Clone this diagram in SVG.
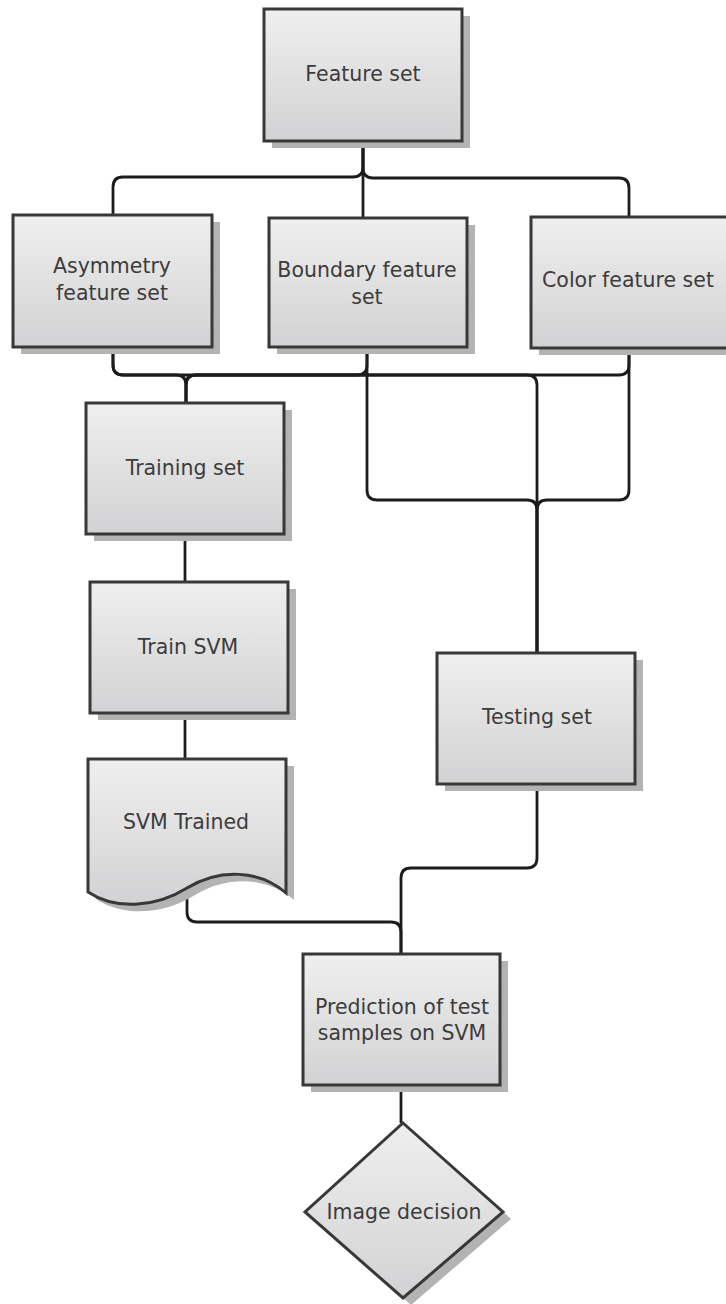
<svg xmlns="http://www.w3.org/2000/svg" width="726" height="1304" viewBox="0 0 726 1304">
<defs>
<linearGradient id="g" x1="0" y1="0" x2="0" y2="1">
<stop offset="0" stop-color="#efefef"/>
<stop offset="1" stop-color="#d2d2d4"/>
</linearGradient>
</defs>
<style>
.box{fill:url(#g);stroke:#383838;stroke-width:3}
.sh{fill:#b3b3b3}
.t{font-family:"DejaVu Sans",sans-serif;font-size:20.5px;fill:#3c3c3c;text-anchor:middle;dominant-baseline:central}
.c{fill:none;stroke:#1c1c1c;stroke-width:2.8}
</style>
<rect width="726" height="1304" fill="#ffffff"/>
<g id="connectors">
<path class="c" d="M363,141 V167 Q363,177 353,177 H123 Q113,177 113,187 V215"/>
<path class="c" d="M363,141 V218"/>
<path class="c" d="M363,141 V168 Q363,178 373,178 H619 Q629,178 629,188 V217"/>
<path class="c" d="M113,347 V365 Q113,375 123,375 H176 Q186,375 186,385 V403"/>
<path class="c" d="M367,347 V365 Q367,375 357,375 H196 Q186,375 186,385 V403"/>
<path class="c" d="M629,348 V365 Q629,375 619,375 H196 Q186,375 186,385 V403"/>
<path class="c" d="M113,347 V365 Q113,375 123,375 H527 Q537,375 537,385 V653"/>
<path class="c" d="M367,347 V490 Q367,500 377,500 H527 Q537,500 537,510 V653"/>
<path class="c" d="M629,348 V490 Q629,500 619,500 H547 Q537,500 537,510 V653"/>
<path class="c" d="M185,534 V582"/>
<path class="c" d="M185,713 V759"/>
<path class="c" d="M187,888 V912 Q187,922 197,922 H391 Q401,922 401,932 V954"/>
<path class="c" d="M537,784 V858 Q537,868 527,868 H411 Q401,868 401,878 V954"/>
<path class="c" d="M401,1085 V1123"/>
</g>
<g id="feature-set">
<rect class="sh" x="272" y="16" width="198" height="132"/>
<rect class="box" x="264" y="9" width="198" height="132"/>
<text class="t" x="363" y="74">Feature set</text>
</g>
<g id="asymmetry">
<rect class="sh" x="21" y="222" width="199" height="132"/>
<rect class="box" x="13" y="215" width="199" height="132"/>
<text class="t" x="112" y="266">Asymmetry</text>
<text class="t" x="112" y="293">feature set</text>
</g>
<g id="boundary">
<rect class="sh" x="277" y="225" width="198" height="129"/>
<rect class="box" x="269" y="218" width="198" height="129"/>
<text class="t" x="367" y="270">Boundary feature</text>
<text class="t" x="367" y="297">set</text>
</g>
<g id="color">
<rect class="sh" x="539" y="224" width="198" height="131"/>
<rect class="box" x="531" y="217" width="198" height="131"/>
<text class="t" x="628" y="280">Color feature set</text>
</g>
<g id="training">
<rect class="sh" x="94" y="410" width="198" height="131"/>
<rect class="box" x="86" y="403" width="198" height="131"/>
<text class="t" x="185" y="468">Training set</text>
</g>
<g id="train-svm">
<rect class="sh" x="98" y="589" width="198" height="131"/>
<rect class="box" x="90" y="582" width="198" height="131"/>
<text class="t" x="188" y="647">Train SVM</text>
</g>
<g id="svm-trained">
<path class="sh" transform="translate(8,7)" d="M88,759 H286 V893 C260,870 220,868 187,888 C155,908 115,910 88,892 Z"/>
<path class="box" d="M88,759 H286 V893 C260,870 220,868 187,888 C155,908 115,910 88,892 Z"/>
<text class="t" x="186" y="822">SVM Trained</text>
</g>
<g id="testing">
<rect class="sh" x="445" y="660" width="198" height="131"/>
<rect class="box" x="437" y="653" width="198" height="131"/>
<text class="t" x="537" y="717">Testing set</text>
</g>
<g id="prediction">
<rect class="sh" x="311" y="961" width="197" height="131"/>
<rect class="box" x="303" y="954" width="197" height="131"/>
<text class="t" x="402" y="1007">Prediction of test</text>
<text class="t" x="402" y="1033">samples on SVM</text>
</g>
<g id="image-decision">
<polygon class="sh" transform="translate(8,7)" points="403,1123 503,1212 403,1298 305,1212"/>
<polygon class="box" points="403,1123 503,1212 403,1298 305,1212"/>
<text class="t" x="404" y="1212">Image decision</text>
</g>
</svg>
